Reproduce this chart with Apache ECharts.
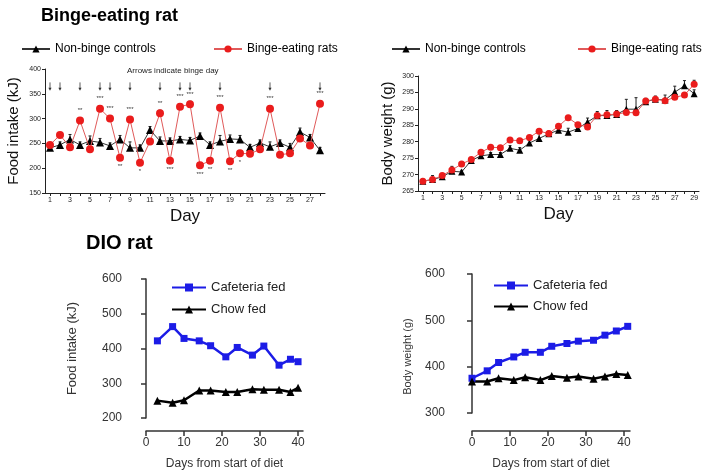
<!DOCTYPE html>
<html><head><meta charset="utf-8">
<script src="https://cdn.jsdelivr.net/npm/echarts@6/dist/echarts.min.js"></script>
<style>html,body{margin:0;padding:0;background:#fff}#c{width:704px;height:474px}</style>
</head><body><div id="c"></div>
<script>
// ---- Binge-eating rat: food intake (kJ) by day ----
const intakeDays = ['1','2','3','4','5','6','7','8','9','10','11','12','13','14','15','16','17','18','19','20','21','22','23','24','25','26','27','28'];
const intakeControl = [241,247,258,247,255,252,245,258,241,241,277,255,255,258,256,265,247,254,259,258,242,251,243,251,242,273,262,236];
const intakeControlErr = [5,6,10,6,10,8,6,8,12,6,7,8,6,6,6,6,6,12,8,8,6,6,10,6,8,8,6,6];
const intakeBinge = [247,267,242,296,238,320,300,221,298,211,254,311,215,324,329,206,215,322,214,230,229,238,320,227,230,260,246,330];
const intakeBingeErr = [4,5,4,6,4,6,6,4,6,4,5,6,4,6,6,4,4,6,4,4,4,4,6,4,4,6,4,6];
const bingeDays = [1,2,4,6,7,9,12,14,15,18,23,28];
const sigDays = [4,6,7,8,9,10,12,13,14,15,16,17,18,19,20,23,28];
const sigMarks = ['**','***','***','**','***','*','**','***','***','***','***','**','***','**','*','***','***'];

// ---- Binge-eating rat: body weight (g) by day ----
const weightDays = ['1','2','3','4','5','6','7','8','9','10','11','12','13','14','15','16','17','18','19','20','21','22','23','24','25','26','27','28','29'];
const weightControl = [268.0,268.5,269.3,271.0,270.8,274.3,275.7,276.1,276.1,278.0,277.4,279.6,281.0,282.4,283.5,282.9,284.0,286.0,287.9,288.0,288.3,289.9,289.9,292.2,292.9,292.7,295.1,297.0,294.6];
const weightControlErr = [0.3,1.2,0.6,1.5,0.5,0.6,0.6,0.6,0.6,0.8,0.8,0.8,1.5,0.8,0.8,1.2,1.5,1.2,1.3,1.5,1.2,3.0,3.5,1.0,1.0,1.5,1.8,1.6,1.2];
const weightBinge = [268.0,268.5,269.7,271.4,273.2,274.6,276.8,278.3,278.2,280.5,280.3,281.3,283.2,282.5,284.7,287.3,285.2,284.5,288.0,288.2,288.4,288.9,288.8,292.4,292.9,292.5,293.5,294.2,297.5];
const weightBingeErr = [0.3,0.5,0.5,0.5,0.5,0.5,0.5,0.5,0.5,0.5,0.5,0.5,0.5,0.5,0.5,0.5,0.5,0.5,0.5,0.5,0.5,0.5,0.5,0.5,0.5,0.5,0.5,0.5,1.2];

// ---- DIO rat: food intake ----
const dioIntakeDays = [3,7,10,14,17,21,24,28,31,35,38,40];
const cafeteriaIntake = [422,463,429,422,408,376,403,381,407,352,369,362];
const chowIntake = [250,244,251,279,279,275,275,283,281,281,275,287];

// ---- DIO rat: body weight ----
const dioWeightDays = [0,4,7,11,14,18,21,25,28,32,35,38,41];
const cafeteriaWeight = [375,391,409,421,431,431,444,450,455,457,468,477,487];
const chowWeight = [368,368,375,371,377,371,380,376,379,374,379,384,382];

const FONT = "'Liberation Sans', Arial, sans-serif";
const RED = '#ea1c1c', BLUE = '#1c1ce6', BLACK = '#000';

function errData(vals, errs){ return vals.map((v,i)=>[i, v, errs[i]]); }
function errRender(color){
  return function(params, api){
    const x = api.value(0), y = api.value(1), e = api.value(2);
    const p0 = api.coord([x, y]), p1 = api.coord([x, y + e]);
    return {type:'group', children:[
      {type:'line', shape:{x1:p0[0],y1:p0[1],x2:p1[0],y2:p1[1]}, style:{stroke:color,lineWidth:1}},
      {type:'line', shape:{x1:p1[0]-1.5,y1:p1[1],x2:p1[0]+1.5,y2:p1[1]}, style:{stroke:color,lineWidth:1}}
    ]};
  };
}

const chart = echarts.init(document.getElementById('c'), null, {renderer:'canvas'});

function smallCatX(grid, data){
  return {type:'category', gridIndex:grid, data:data, boundaryGap:true,
    axisLine:{show:true, lineStyle:{color:'#222', width:1}},
    axisTick:{show:true, alignWithLabel:true, interval:0, length:3, lineStyle:{color:'#222'}},
    axisLabel:{interval:1, fontSize:7, color:'#222', margin:4, fontFamily:FONT},
    splitLine:{show:false},
    name:'Day', nameLocation:'middle', nameGap:15, nameTextStyle:{fontSize:17, color:'#111', fontFamily:FONT}};
}
function smallValY(grid, min, max, interval, name, gap){
  return {type:'value', gridIndex:grid, min:min, max:max, interval:interval,
    axisLine:{show:true, lineStyle:{color:'#222', width:1}},
    axisTick:{show:true, length:3, lineStyle:{color:'#222'}},
    axisLabel:{fontSize:7, color:'#222', margin:4, fontFamily:FONT},
    splitLine:{show:false},
    name:name, nameLocation:'middle', nameGap:gap, nameRotate:90, nameTextStyle:{fontSize:15, color:'#111', fontFamily:FONT}};
}
function bigValX(grid, max, offset){
  return {type:'value', gridIndex:grid, min:0, max:max, interval:10, offset:offset,
    axisLine:{show:true, lineStyle:{color:'#333', width:1.5}},
    axisTick:{show:true, length:5, inside:false, customValues:[0,10,20,30,40], lineStyle:{color:'#333', width:1.5}},
    axisLabel:{fontSize:12, color:'#333', margin:6, customValues:[0,10,20,30,40], fontFamily:FONT},
    splitLine:{show:false},
    name:'Days from start of diet', nameLocation:'middle', nameGap:27, nameTextStyle:{fontSize:12, color:'#333', fontFamily:FONT}};
}
function bigValY(grid, min, max, offset, name, gap, fs, pad){
  return {type:'value', gridIndex:grid, min:min, max:max, interval:100, offset:offset,
    axisLine:{show:true, lineStyle:{color:'#333', width:1.5}},
    axisTick:{show:true, length:5, lineStyle:{color:'#333', width:1.5}},
    axisLabel:{fontSize:12, color:'#333', margin:3, fontFamily:FONT},
    splitLine:{show:false},
    name:name, nameLocation:'middle', nameGap:gap, nameRotate:90, nameTextStyle:{fontSize:fs, color:'#333', fontFamily:FONT, padding:pad}};
}

const option = {
  backgroundColor:'#fff',
  animation:false,
  textStyle:{fontFamily:FONT},
  title:[
    {text:'Binge-eating rat', left:36, top:2, textStyle:{fontSize:18, fontWeight:'bold', color:'#000', fontFamily:FONT}},
    {text:'DIO rat', left:81, top:228, textStyle:{fontSize:20, fontWeight:'bold', color:'#000', fontFamily:FONT}}
  ],
  legend:[
    {data:['Non-binge controls'], left:16, top:38, itemWidth:28, itemHeight:9, textStyle:{fontSize:12, color:'#000', fontFamily:FONT}},
    {data:['Binge-eating rats'], left:208, top:38, itemWidth:28, itemHeight:9, textStyle:{fontSize:12, color:'#000', fontFamily:FONT}},
    {data:['Non-binge controls'], left:386, top:38, itemWidth:28, itemHeight:9, textStyle:{fontSize:12, color:'#000', fontFamily:FONT}},
    {data:['Binge-eating rats'], left:572, top:38, itemWidth:28, itemHeight:9, textStyle:{fontSize:12, color:'#000', fontFamily:FONT}},
    {data:['Cafeteria fed','Chow fed'], orient:'vertical', left:166, top:276, itemGap:9, itemWidth:34, itemHeight:10, textStyle:{fontSize:13, color:'#222', fontFamily:FONT}},
    {data:['Cafeteria fed','Chow fed'], orient:'vertical', left:488, top:274, itemGap:8, itemWidth:34, itemHeight:10, textStyle:{fontSize:13, color:'#222', fontFamily:FONT}}
  ],
  graphic:[
    {type:'text', left:127, top:67, style:{text:'Arrows indicate binge day', fontSize:8, fill:'#222', fontFamily:FONT}}
  ],
  grid:[
    {left:45, right:379, top:69, bottom:281},
    {left:418, right:5, top:76, bottom:283},
    {left:146, right:401, top:279, bottom:56},
    {left:472, right:74, top:274, bottom:61}
  ],
  xAxis:[
    smallCatX(0, intakeDays),
    smallCatX(1, weightDays),
    bigValX(2, 41.3, 13),
    bigValX(3, 41.6, 18)
  ],
  yAxis:[
    smallValY(0, 150, 400, 50, 'Food intake (kJ)', 24),
    smallValY(1, 265, 300, 5, 'Body weight (g)', 23),
    bigValY(2, 200, 600, 21, 'Food intake (kJ)', 46, 13, 0),
    bigValY(3, 300, 600, 24, 'Body weight (g)', 35, 11, [0,26,0,0])
  ],
  series:[
    // top-left
    {type:'custom', xAxisIndex:0, yAxisIndex:0, z:1, renderItem:errRender('#222'), data:errData(intakeControl, intakeControlErr), silent:true},
    {type:'custom', xAxisIndex:0, yAxisIndex:0, z:1, renderItem:errRender('#222'), data:errData(intakeBinge, intakeBingeErr), silent:true},
    {name:'Non-binge controls', type:'line', xAxisIndex:0, yAxisIndex:0, data:intakeControl, symbol:'triangle', symbolSize:8, showAllSymbol:true,
      lineStyle:{color:'#333', width:1}, itemStyle:{color:BLACK}, z:3},
    {name:'Binge-eating rats', type:'line', xAxisIndex:0, yAxisIndex:0, data:intakeBinge, symbol:'circle', symbolSize:8, showAllSymbol:true,
      lineStyle:{color:'#e05a5a', width:1}, itemStyle:{color:RED}, z:4},
    {type:'custom', xAxisIndex:0, yAxisIndex:0, silent:true, z:5,
      data:bingeDays.map(d=>[d-1]),
      renderItem:function(params, api){
        const i = api.value(0);
        const p0 = api.coord([i, 373]), p1 = api.coord([i, 356]);
        return {type:'group', children:[
          {type:'line', shape:{x1:p0[0],y1:p0[1],x2:p1[0],y2:p1[1]-2}, style:{stroke:'#333',lineWidth:0.8}},
          {type:'polygon', shape:{points:[[p1[0]-1.6,p1[1]-3],[p1[0]+1.6,p1[1]-3],[p1[0],p1[1]]]}, style:{fill:'#333'}}
        ]};
      }},
    {type:'custom', xAxisIndex:0, yAxisIndex:0, silent:true, z:5,
      data:sigDays.map((d,k)=>[d-1, intakeBinge[d-1], sigMarks[k], bingeDays.indexOf(d)>=0 ? 1 : -1]),
      renderItem:function(params, api){
        const i = api.value(0), v = api.value(1), dir = api.value(3);
        const p = api.coord([i, v]);
        return {type:'text', x:p[0], y:p[1] + (dir>0 ? -10 : 9),
          style:{text:sigMarks[params.dataIndex], fontSize:6, fill:'#333', align:'center', verticalAlign:'middle', fontFamily:FONT}};
      }},
    // top-right
    {type:'custom', xAxisIndex:1, yAxisIndex:1, z:1, renderItem:errRender('#222'), data:errData(weightControl, weightControlErr), silent:true},
    {type:'custom', xAxisIndex:1, yAxisIndex:1, z:1, renderItem:errRender('#222'), data:errData(weightBinge, weightBingeErr), silent:true},
    {name:'Non-binge controls', type:'line', xAxisIndex:1, yAxisIndex:1, data:weightControl, symbol:'triangle', symbolSize:7, showAllSymbol:true,
      lineStyle:{color:'#333', width:1}, itemStyle:{color:BLACK}, z:3},
    {name:'Binge-eating rats', type:'line', xAxisIndex:1, yAxisIndex:1, data:weightBinge, symbol:'circle', symbolSize:7, showAllSymbol:true,
      lineStyle:{color:'#e05a5a', width:1}, itemStyle:{color:RED}, z:4},
    // bottom-left
    {name:'Cafeteria fed', type:'line', xAxisIndex:2, yAxisIndex:2, data:dioIntakeDays.map((d,i)=>[d, cafeteriaIntake[i]]),
      symbol:'rect', symbolSize:7, showAllSymbol:true, lineStyle:{color:BLUE, width:2.5}, itemStyle:{color:BLUE}},
    {name:'Chow fed', type:'line', xAxisIndex:2, yAxisIndex:2, data:dioIntakeDays.map((d,i)=>[d, chowIntake[i]]),
      symbol:'triangle', symbolSize:8, showAllSymbol:true, lineStyle:{color:BLACK, width:2.5}, itemStyle:{color:BLACK}},
    // bottom-right
    {name:'Cafeteria fed', type:'line', xAxisIndex:3, yAxisIndex:3, data:dioWeightDays.map((d,i)=>[d, cafeteriaWeight[i]]),
      symbol:'rect', symbolSize:7, showAllSymbol:true, lineStyle:{color:BLUE, width:2.5}, itemStyle:{color:BLUE}},
    {name:'Chow fed', type:'line', xAxisIndex:3, yAxisIndex:3, data:dioWeightDays.map((d,i)=>[d, chowWeight[i]]),
      symbol:'triangle', symbolSize:8, showAllSymbol:true, lineStyle:{color:BLACK, width:2.5}, itemStyle:{color:BLACK}}
  ]
};
chart.setOption(option);
</script></body></html>
